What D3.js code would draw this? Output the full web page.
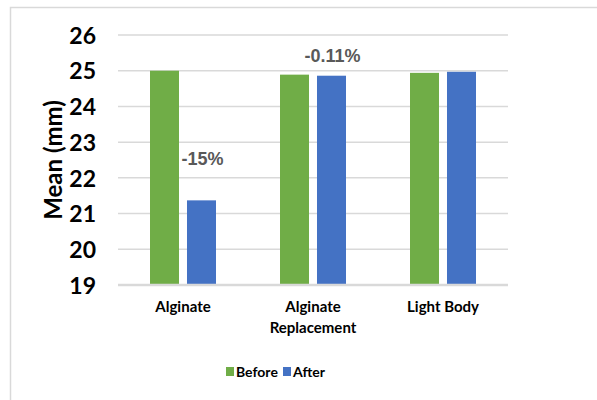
<!DOCTYPE html>
<html>
<head>
<meta charset="utf-8">
<script src="https://cdn.jsdelivr.net/npm/d3@7"></script>
<style>
  html, body { margin: 0; padding: 0; background: #fff; }
  svg { display: block; }
</style>
</head>
<body>
<svg id="chart" width="597" height="400"></svg>
<script>
// Mean dimension before and after, per impression material
const categories = ["Alginate", "Alginate Replacement", "Light Body"];
const categoryLines = [["Alginate"], ["Alginate", "Replacement"], ["Light Body"]];
const seriesNames = ["Before", "After"];
const beforeValues = [25.0, 24.89, 24.94];
const afterValues = [21.37, 24.86, 24.97];
const yTicks = [19, 20, 21, 22, 23, 24, 25, 26];
const changeLabels = ["-15%", "-0.11%", ""];
const colors = ["#70ad47", "#4472c4"];

const svg = d3.select("#chart");
const margin = { left: 118, right: 89, top: 35, bottom: 115 };
const width = 597, height = 400;

// chart area frame
svg.append("rect")
  .attr("x", 10.5).attr("y", 7.5)
  .attr("width", 620).attr("height", 420)
  .attr("fill", "none").attr("stroke", "#d9d9d9").attr("stroke-width", 1.5);

const x0 = d3.scaleBand()
  .domain(categories)
  .range([margin.left, width - margin.right])
  .paddingInner(0).paddingOuter(0);

const x1 = d3.scaleBand()
  .domain(seriesNames)
  .range([0, 66])
  .paddingInner(0.216);

const y = d3.scaleLinear()
  .domain([19, 26])
  .range([height - margin.bottom, margin.top]);

// gridlines
svg.append("g")
  .selectAll("line")
  .data(yTicks.slice(1))
  .join("line")
  .attr("x1", margin.left).attr("x2", width - margin.right)
  .attr("y1", d => y(d)).attr("y2", d => y(d))
  .attr("stroke", "#d9d9d9").attr("stroke-width", 1.5);

// y tick labels
const yAxis = d3.axisLeft(y).tickValues(yTicks).tickFormat(d3.format("d")).tickSize(0).tickPadding(22);
const yg = svg.append("g")
  .attr("transform", `translate(${margin.left},0)`)
  .call(yAxis);
yg.select(".domain").remove();
yg.selectAll("text")
  .attr("font-family", "Lato, 'Open Sans', sans-serif")
  .attr("font-weight", "bold")
  .attr("font-size", 23)
  .attr("fill", "#000")
  .attr("dy", "0.36em");

// bars
const rows = categories.map((c, i) => ({ cat: c, vals: [beforeValues[i], afterValues[i]], label: changeLabels[i] }));
const groups = svg.append("g")
  .selectAll("g")
  .data(rows)
  .join("g")
  .attr("transform", d => `translate(${x0(d.cat) + x0.bandwidth() / 2 - 33},0)`);

groups.selectAll("rect")
  .data(d => d.vals.map((v, j) => ({ key: seriesNames[j], v, j })))
  .join("rect")
  .attr("x", d => x1(d.key))
  .attr("width", x1.bandwidth())
  .attr("y", d => y(d.v))
  .attr("height", d => y(19) - y(d.v))
  .attr("fill", d => colors[d.j]);

// baseline axis
svg.append("line")
  .attr("x1", margin.left).attr("x2", width - margin.right)
  .attr("y1", y(19)).attr("y2", y(19))
  .attr("stroke", "#d9d9d9").attr("stroke-width", 2.5);

// percentage change labels above the "After" bars
// (the large drop sits higher so it clears the bar by a wider margin)
groups.append("text")
  .attr("x", x1("After") + x1.bandwidth() / 2 + 1)
  .attr("y", d => y(d.vals[1]) - (d.vals[0] - d.vals[1] > 1 ? 35 : 14))
  .attr("text-anchor", "middle")
  .attr("font-family", "'Liberation Sans', Arial, sans-serif")
  .attr("font-weight", "bold")
  .attr("font-size", 18)
  .attr("fill", "#595959")
  .text(d => d.label);

// category labels
const catG = svg.append("g");
categories.forEach((c, i) => {
  const t = catG.append("text")
    .attr("x", x0(c) + x0.bandwidth() / 2)
    .attr("y", 312)
    .attr("text-anchor", "middle")
    .attr("font-family", "Lato, 'Open Sans', sans-serif")
    .attr("font-weight", "bold")
    .attr("font-size", 15)
    .attr("fill", "#000");
  categoryLines[i].forEach((line, k) => {
    t.append("tspan")
      .attr("x", x0(c) + x0.bandwidth() / 2)
      .attr("dy", k === 0 ? 0 : 21)
      .text(line);
  });
});

// y axis title
svg.append("text")
  .attr("transform", `translate(62,160) rotate(-90)`)
  .attr("text-anchor", "middle")
  .attr("font-family", "Lato, 'Open Sans', sans-serif")
  .attr("font-weight", "bold")
  .attr("font-size", 24)
  .attr("fill", "#000")
  .text("Mean (mm)");

// legend
const legend = svg.append("g").attr("transform", "translate(226,367)");
const legendOffsets = [0, 57];
seriesNames.forEach((s, i) => {
  const g = legend.append("g").attr("transform", `translate(${legendOffsets[i]},0)`);
  g.append("rect").attr("width", 8).attr("height", 9).attr("fill", colors[i]);
  g.append("text")
    .attr("x", 10).attr("y", 9.5)
    .attr("font-family", "Lato, 'Open Sans', sans-serif")
    .attr("font-weight", "bold")
    .attr("font-size", 14)
    .attr("fill", "#000")
    .text(s);
});
</script>
</body>
</html>
